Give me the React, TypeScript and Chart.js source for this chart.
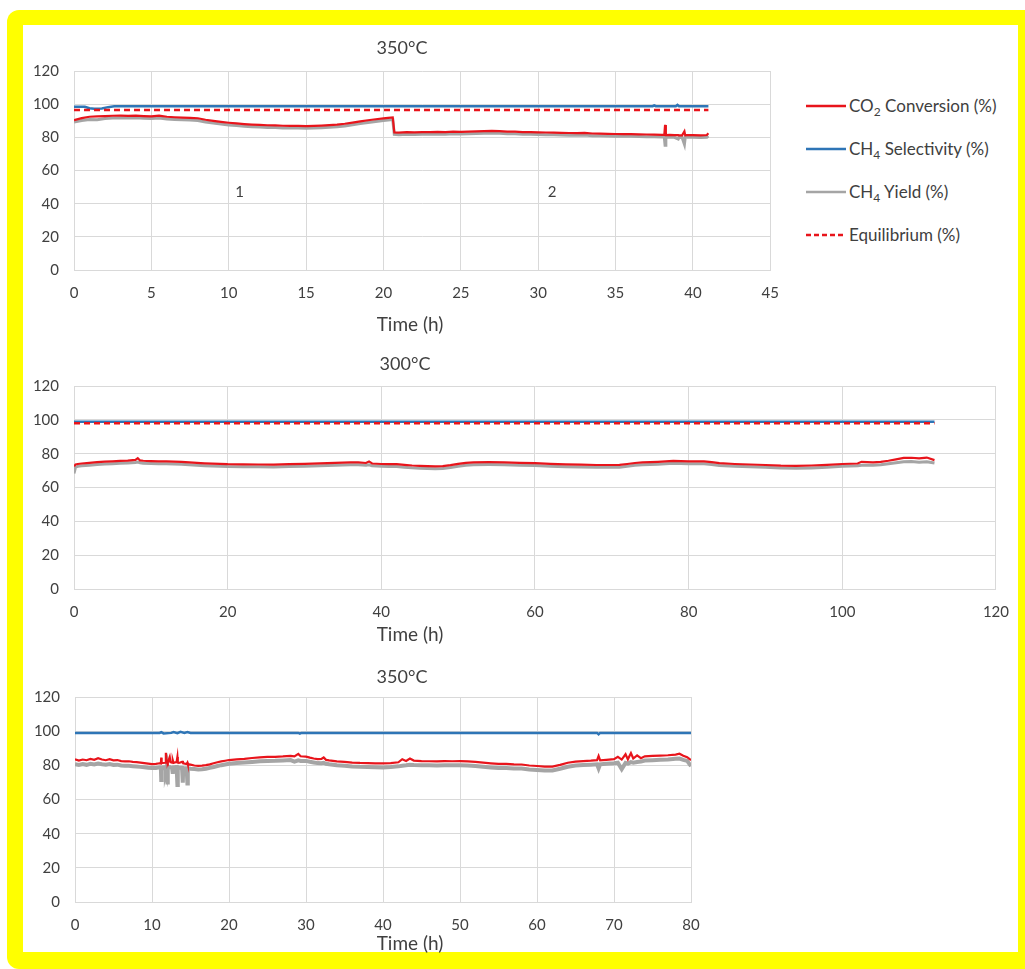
import React, { useEffect, useRef } from "react";
import { Chart, registerables } from "chart.js";
Chart.register(...registerables);

const FONT = "Lato, 'Open Sans', 'DejaVu Sans', sans-serif";
const TEXT_COLOR = "#404040";
const GRID_COLOR = "#D9D9D9";
const RED = "#E8141B";
const BLUE = "#2E75B6";
const GRAY = "#A5A5A5";

// ---------- Panel 1 : 350 °C, two stages ----------
const TIME_1 = [
  0, 0.5, 1, 1.5, 2, 2.5, 3, 3.5, 4, 4.5,
  5, 5.5, 6, 6.5, 7, 7.5, 8, 8.5, 9, 9.5,
  10, 10.5, 11, 11.5, 12, 12.5, 13, 13.5, 14, 14.5,
  15, 15.5, 16, 16.5, 17, 17.5, 18, 18.5, 19, 19.5,
  20, 20.3, 20.6, 20.7, 21, 21.5, 22, 22.5, 23, 23.5,
  24, 24.5, 25, 25.5, 26, 26.5, 27, 27.5, 28, 28.5,
  29, 29.5, 30, 30.5, 31, 31.5, 32, 32.5, 33, 33.5,
  34, 34.5, 35, 35.5, 36, 36.5, 37, 37.5, 38, 38.15,
  38.2, 38.25, 38.5, 38.8, 39.05, 39.1, 39.3, 39.45, 39.5, 39.6,
  40, 40.5, 40.9, 41,
];
const CONV_1 = [
  90.3, 91.6, 92.4, 92.6, 92.8, 93.0, 93.1, 93.0, 93.1, 92.8,
  92.6, 93.1, 92.4, 92.1, 91.9, 91.7, 91.5, 90.6, 89.9, 89.3,
  88.8, 88.4, 88.0, 87.7, 87.5, 87.3, 87.2, 87.0, 86.9, 86.9,
  86.8, 86.9, 87.1, 87.4, 87.7, 88.2, 88.9, 89.6, 90.3, 90.9,
  91.4, 91.7, 92.0, 83.0, 82.9, 83.1, 83.0, 83.2, 83.1, 83.3,
  83.2, 83.4, 83.3, 83.5, 83.6, 83.8, 83.9, 83.7, 83.5, 83.4,
  83.2, 83.1, 83.0, 82.9, 82.8, 82.7, 82.6, 82.5, 82.7, 82.3,
  82.2, 82.1, 82.0, 81.9, 81.9, 81.8, 81.7, 81.6, 81.5, 81.5,
  87.5, 81.4, 81.5, 81.3, 81.3, 81.2, 81.2, 83.6, 81.2, 81.3,
  81.3, 81.2, 81.4, 82.4,
];
const YIELD_1 = [
  89.2, 90.2, 90.8, 90.6, 91.3, 91.6, 91.8, 91.7, 91.8, 91.5,
  91.3, 91.7, 91.1, 90.8, 90.6, 90.4, 90.2, 89.3, 88.6, 88.0,
  87.5, 87.1, 86.7, 86.4, 86.2, 86.0, 85.9, 85.7, 85.6, 85.6,
  85.5, 85.6, 85.8, 86.1, 86.4, 86.9, 87.6, 88.3, 89.0, 89.6,
  90.1, 90.4, 90.7, 81.8, 81.6, 81.8, 81.7, 81.9, 81.8, 82.0,
  81.9, 82.1, 82.0, 82.2, 82.3, 82.5, 82.6, 82.4, 82.2, 82.1,
  81.9, 81.8, 81.7, 81.6, 81.5, 81.4, 81.3, 81.2, 81.4, 81.0,
  80.9, 80.8, 80.7, 80.6, 80.6, 80.5, 80.4, 80.3, 80.2, 80.2,
  75.2, 80.1, 80.2, 80.0, 79.0, 80.0, 79.9, 75.8, 79.9, 80.0,
  80.0, 79.9, 80.1, 80.8,
];
const SEL_TIME_1 = [0, 0.7, 1.0, 1.3, 1.8, 2.2, 2.6, 10, 20, 30, 37.4, 37.5, 37.6, 38.9, 39.0, 39.1, 41];
const SEL_1 = [98.5, 98.4, 97.6, 97.3, 97.4, 98.2, 98.7, 98.8, 98.8, 98.8, 98.8, 99.3, 98.8, 98.8, 99.6, 98.8, 98.8];
const EQ_TIME_1 = [0, 41];
const EQ_1 = [96.5, 96.5];
const STAGE_LABELS_1 = [
  { text: "1", t: 10.7, v: 47 },
  { text: "2", t: 30.9, v: 47 },
];

// ---------- Panel 2 : 300 °C ----------
const TIME_2 = [
  0, 0.2, 0.5, 1, 2, 3, 4, 5, 6, 7,
  8, 8.3, 8.6, 9, 10, 11, 12, 13, 14, 15,
  16, 17, 18, 19, 20, 22, 24, 26, 28, 30,
  32, 34, 36, 37, 38, 38.4, 38.8, 40, 41, 42,
  43, 44, 45, 46, 47, 48, 49, 50, 51, 52,
  54, 56, 58, 60, 62, 64, 66, 68, 70, 71,
  72, 73, 74, 76, 78, 80, 82, 83, 84, 86,
  88, 90, 92, 94, 96, 98, 100, 102, 102.5, 104,
  105, 106, 107, 108, 109, 110, 111, 112,
];
const CONV_2 = [
  72.5, 73.6, 73.9, 74.2, 74.6, 75.0, 75.3, 75.5, 75.7, 75.9,
  76.3, 77.3, 76.0, 75.8, 75.6, 75.5, 75.4, 75.3, 75.2, 74.8,
  74.5, 74.3, 74.1, 74.0, 73.8, 73.7, 73.6, 73.5, 73.8, 74.0,
  74.3, 74.6, 74.8, 74.9, 74.5, 75.4, 74.2, 73.9, 73.8, 73.8,
  73.4, 73.0, 72.8, 72.6, 72.5, 72.6, 73.2, 74.0, 74.6, 74.9,
  75.0, 74.9, 74.6, 74.4, 74.0, 73.7, 73.5, 73.3, 73.3, 73.4,
  73.9, 74.5, 74.8, 75.2, 75.7, 75.5, 75.4, 75.0, 74.4, 73.9,
  73.6, 73.3, 72.9, 72.8, 73.0, 73.4, 73.9, 74.2, 75.2, 74.8,
  75.2, 75.8, 76.6, 77.5, 77.6, 77.2, 77.7, 76.2,
];
const YIELD_2 = [
  68.3, 72.0, 72.5, 72.8, 73.2, 73.6, 73.9, 74.1, 74.3, 74.5,
  74.8, 75.0, 74.6, 74.4, 74.2, 74.1, 74.0, 73.9, 73.8, 73.4,
  73.1, 72.9, 72.7, 72.6, 72.4, 72.3, 72.2, 72.1, 72.4, 72.6,
  72.9, 73.2, 73.4, 73.5, 73.1, 73.4, 72.8, 72.5, 72.4, 72.4,
  72.0, 71.6, 71.4, 71.2, 71.1, 71.2, 71.8, 72.6, 73.2, 73.5,
  73.6, 73.5, 73.2, 73.0, 72.6, 72.3, 72.1, 71.9, 71.9, 72.0,
  72.5, 73.1, 73.4, 73.8, 74.3, 74.1, 74.0, 73.6, 73.0, 72.5,
  72.2, 71.9, 71.5, 71.4, 71.6, 72.0, 72.5, 72.8, 73.2, 73.2,
  73.5, 74.0, 74.6, 75.2, 75.3, 75.0, 75.2, 74.5,
];
const SEL_TIME_2 = [0, 112];
const SEL_2 = [98.9, 98.9];
const EQ_TIME_2 = [0, 112];
const EQ_2 = [98.0, 98.0];

// ---------- Panel 3 : 350 °C ----------
const TIME_3 = [
  0, 0.5, 1, 1.5, 2, 2.5, 3, 3.5, 4, 4.5,
  5, 5.5, 6, 6.5, 7, 7.5, 8, 8.5, 9, 9.5,
  10, 10.5, 11, 11.15, 11.2, 11.25, 11.7, 11.8, 11.9, 12.0,
  12.05, 12.3, 12.4, 12.6, 12.7, 12.8, 13.2, 13.3, 13.35, 13.5,
  13.9, 14.0, 14.05, 14.5, 14.6, 14.65, 14.8, 15, 15.5, 16, 16.5,
  17, 17.5, 18, 18.5, 19, 19.5, 20, 21, 22, 23,
  24, 25, 26, 27, 28, 28.5, 29, 29.3, 30, 30.5,
  31, 31.5, 32, 32.3, 32.6, 33, 34, 35, 36, 37,
  38, 39, 40, 41, 42, 42.5, 43, 43.5, 44, 45,
  46, 47, 48, 49, 50, 51, 52, 53, 54, 55,
  56, 57, 58, 59, 60, 61, 62, 63, 64, 65,
  66, 67, 67.8, 68, 68.2, 69, 70, 70.5, 71, 71.5,
  71.8, 72.2, 72.5, 73, 73.5, 74, 75, 76, 77, 78,
  78.5, 79, 79.5, 80,
];
const CONV_3 = [
  83.5, 82.8, 83.4, 83.0, 83.8, 83.2, 84.2, 83.4, 83.0, 83.6,
  82.9, 83.1, 82.5, 82.3, 82.4, 82.0, 81.9, 81.6, 81.3, 81.0,
  80.7, 80.9, 81.2, 81.0, 84.5, 81.3, 81.5, 87.3, 81.8, 82.0,
  81.6, 84.8, 81.8, 81.5, 83.0, 81.4, 82.0, 84.9, 81.6, 81.4,
  82.0, 82.5, 81.2, 80.8, 81.6, 80.7, 80.6, 80.4, 79.9, 79.7, 79.8,
  80.1, 80.6, 81.2, 81.8, 82.3, 82.7, 83.1, 83.5, 83.8, 84.3,
  84.7, 84.9, 85.0, 85.2, 85.5, 85.2, 86.7, 85.3, 85.1, 84.5,
  84.0, 83.6, 83.7, 84.6, 83.2, 82.9, 82.3, 82.0, 81.6, 81.4,
  81.3, 81.2, 81.1, 81.3, 81.8, 83.6, 82.6, 84.0, 82.8, 82.5,
  82.4, 82.3, 82.5, 82.4, 82.5, 82.3, 82.0, 81.6, 81.2, 80.8,
  80.9, 80.6, 80.5, 79.9, 79.6, 79.3, 79.3, 80.3, 81.5, 82.2,
  82.5, 82.7, 83.0, 85.5, 82.9, 83.2, 83.6, 85.0, 83.4, 86.5,
  83.5, 87.2, 84.0, 85.8, 84.2, 85.3, 85.5, 85.7, 85.9, 86.3,
  86.8, 85.6, 84.8, 83.0,
];
const YIELD_3 = [
  80.6, 80.2, 80.8, 80.3, 80.9, 80.5, 81.0, 80.6, 80.4, 80.8,
  80.2, 80.4, 79.9, 79.8, 79.7, 79.5, 79.3, 79.1, 78.9, 78.6,
  78.4, 78.5, 78.8, 78.6, 71.4, 78.7, 78.9, 77.0, 79.0, 69.9,
  78.9, 79.0, 78.8, 78.6, 75.0, 78.8, 79.0, 68.5, 78.8, 78.7,
  78.5, 69.9, 78.4, 78.3, 69.4, 78.2, 78.2, 78.0, 77.8, 77.6, 77.7,
  78.0, 78.5, 79.0, 79.6, 80.1, 80.5, 80.9, 81.3, 81.6, 82.0,
  82.4, 82.6, 82.7, 82.9, 83.1, 82.2, 82.9, 82.6, 82.6, 82.1,
  81.7, 81.3, 81.2, 81.5, 80.9, 80.6, 80.0, 79.7, 79.3, 79.1,
  79.0, 78.9, 78.8, 79.0, 79.4, 79.8, 80.0, 80.3, 80.2, 80.1,
  80.0, 79.9, 80.1, 80.0, 80.1, 79.9, 79.6, 79.2, 78.8, 78.4,
  78.5, 78.2, 78.1, 77.6, 77.3, 77.0, 77.0, 78.0, 79.2, 79.9,
  80.2, 80.4, 80.6, 78.2, 80.6, 80.9, 81.2, 81.5, 77.8, 81.4,
  81.0, 81.9, 81.6, 82.0, 82.2, 82.8, 83.0, 83.2, 83.4, 83.8,
  84.0, 83.2, 82.6, 79.5,
];
const SEL_TIME_3 = [0, 11, 11.2, 11.5, 12.5, 12.8, 13.3, 13.7, 14.2, 14.6, 15, 29, 29.2, 29.4, 67.8, 68, 68.2, 80];
const SEL_3 = [99.0, 99.0, 99.4, 98.7, 99.0, 99.5, 98.8, 99.6, 99.0, 99.5, 99.0, 99.0, 98.6, 99.0, 99.0, 98.2, 99.0, 99.0];

// ---------- shared labels ----------
const Y_MIN = 0;
const Y_MAX = 120;
const Y_STEP = 20;
const X_TITLE = "Time (h)";
const SERIES_NAMES = ["CO₂ Conversion (%)", "CH₄ Selectivity (%)", "CH₄ Yield (%)", "Equilibrium (%)"];
const LEGEND_PARTS = [
  ["CO", "2", " Conversion (%)"],
  ["CH", "4", " Selectivity (%)"],
  ["CH", "4", " Yield (%)"],
  ["Equilibrium (%)", "", ""],
];

const pts = (xs: number[], ys: number[]) => xs.map((x, i) => ({ x, y: ys[i] }));

const pinnedText = {
  id: "pinnedText",
  afterDatasetsDraw(chart: any, _args: any, opts: any) {
    const ctx = chart.ctx;
    ctx.save();
    ctx.fillStyle = TEXT_COLOR;
    ctx.textAlign = "center";
    ctx.textBaseline = "middle";
    for (const it of opts.items || []) {
      ctx.font = `${it.size}px ${FONT}`;
      let x = it.x;
      let y = it.y;
      if (it.data) {
        x = chart.scales.x.getPixelForValue(it.x);
        y = chart.scales.y.getPixelForValue(it.y);
      }
      ctx.fillText(it.text, x, y);
    }
    ctx.restore();
  },
};

function lineDs(label: string, data: any[], color: string, width: number, order: number, dash?: number[]) {
  return {
    label,
    data,
    borderColor: color,
    backgroundColor: color,
    borderWidth: width,
    borderDash: dash || [],
    pointRadius: 0,
    tension: 0,
    fill: false,
    order,
  };
}

function makeConfig(p: any) {
  return {
    type: "line",
    data: { datasets: p.datasets },
    plugins: [pinnedText],
    options: {
      responsive: false,
      animation: false,
      events: [],
      layout: { padding: p.padding },
      plugins: {
        legend: { display: false },
        tooltip: { enabled: false },
        title: { display: false },
        pinnedText: { items: p.texts },
      },
      scales: {
        x: {
          type: "linear",
          min: 0,
          max: p.xMax,
          ticks: { stepSize: p.xStep, padding: 14, color: TEXT_COLOR, font: { family: FONT, size: 15 }, maxRotation: 0 },
          grid: { color: GRID_COLOR, drawTicks: false, lineWidth: 1 },
          border: { color: GRID_COLOR },
          afterFit: (s: any) => {
            s.height = p.xAxisH;
          },
        },
        y: {
          type: "linear",
          min: Y_MIN,
          max: Y_MAX,
          ticks: { stepSize: Y_STEP, padding: 15, color: TEXT_COLOR, font: { family: FONT, size: 15 } },
          grid: { color: GRID_COLOR, drawTicks: false, lineWidth: 1 },
          border: { color: GRID_COLOR },
          afterFit: (s: any) => {
            s.width = p.yAxisW;
          },
        },
      },
    },
  };
}

function Panel({ left, top, width, height, config }: any) {
  const ref = useRef<HTMLCanvasElement | null>(null);
  useEffect(() => {
    const chart = new Chart(ref.current as HTMLCanvasElement, config);
    return () => chart.destroy();
  }, []);
  return (
    <canvas
      ref={ref}
      width={width}
      height={height}
      style={{ position: "absolute", left, top, width, height }}
    />
  );
}

const config1 = makeConfig({
  xMax: 45,
  xStep: 5,
  padding: { left: 0, right: 22, top: 41, bottom: 0 },
  yAxisW: 51,
  xAxisH: 75,
  texts: [
    { text: "350°C", x: 379, y: 18, size: 18 },
    { text: X_TITLE, x: 387, y: 295, size: 19 },
    ...STAGE_LABELS_1.map((s) => ({ text: s.text, x: s.t, y: s.v, size: 15, data: true })),
  ],
  datasets: [
    lineDs(SERIES_NAMES[0], pts(TIME_1, CONV_1), RED, 2.2, 1),
    lineDs(SERIES_NAMES[1], pts(SEL_TIME_1, SEL_1), BLUE, 2.5, 3),
    lineDs(SERIES_NAMES[2], pts(TIME_1, YIELD_1), GRAY, 3, 4),
    lineDs(SERIES_NAMES[3], pts(EQ_TIME_1, EQ_1), RED, 2.5, 2, [6, 4]),
  ],
});

const config2 = makeConfig({
  xMax: 120,
  xStep: 20,
  padding: { left: 0, right: 20, top: 41, bottom: 0 },
  yAxisW: 51,
  xAxisH: 71,
  texts: [
    { text: "300°C", x: 382, y: 19, size: 18 },
    { text: X_TITLE, x: 387, y: 290, size: 19 },
  ],
  datasets: [
    lineDs(SERIES_NAMES[0], pts(TIME_2, CONV_2), RED, 2.2, 1),
    lineDs(SERIES_NAMES[1], pts(SEL_TIME_2, SEL_2), BLUE, 2.5, 3),
    lineDs(SERIES_NAMES[2], pts(TIME_2, YIELD_2), GRAY, 3, 4),
    lineDs(SERIES_NAMES[3], pts(EQ_TIME_2, EQ_2), RED, 2.5, 2, [6, 4]),
  ],
});

const config3 = makeConfig({
  xMax: 80,
  xStep: 10,
  padding: { left: 0, right: 32, top: 42, bottom: 0 },
  yAxisW: 52,
  xAxisH: 53,
  texts: [
    { text: "350°C", x: 379, y: 22, size: 18 },
    { text: X_TITLE, x: 387, y: 289, size: 19 },
  ],
  datasets: [
    lineDs(SERIES_NAMES[0], pts(TIME_3, CONV_3), RED, 2.2, 1),
    lineDs(SERIES_NAMES[1], pts(SEL_TIME_3, SEL_3), BLUE, 2.5, 3),
    lineDs(SERIES_NAMES[2], pts(TIME_3, YIELD_3), GRAY, 4, 4),
  ],
});

const LEGEND_STYLE = [
  { color: RED, dash: "" },
  { color: BLUE, dash: "" },
  { color: GRAY, dash: "" },
  { color: RED, dash: "5 3" },
];
const LEGEND_ROWS_Y = [105.5, 149, 192, 235];

function Legend() {
  return (
    <>
      {LEGEND_PARTS.map((parts, i) => (
        <div key={i}>
          <svg
            width={40}
            height={6}
            style={{ position: "absolute", left: 806, top: LEGEND_ROWS_Y[i] - 3 }}
          >
            <line
              x1={0}
              y1={3}
              x2={40}
              y2={3}
              stroke={LEGEND_STYLE[i].color}
              strokeWidth={2.5}
              strokeDasharray={LEGEND_STYLE[i].dash || undefined}
            />
          </svg>
          <div
            style={{
              position: "absolute",
              left: 849,
              top: LEGEND_ROWS_Y[i] - 11,
              height: 22,
              lineHeight: "22px",
              fontFamily: FONT,
              fontSize: 17,
              color: TEXT_COLOR,
              whiteSpace: "nowrap",
            }}
          >
            {parts[0]}
            {parts[1] ? (
              <span style={{ fontSize: 12, position: "relative", top: 4 }}>{parts[1]}</span>
            ) : null}
            {parts[2]}
          </div>
        </div>
      ))}
    </>
  );
}

export default function App() {
  return (
    <div
      style={{
        position: "absolute",
        left: 0,
        top: 0,
        width: 1025,
        height: 969,
        overflow: "hidden",
        background: "#ffffff",
      }}
    >
      <div
        style={{
          position: "absolute",
          left: 7,
          top: 10,
          width: 1040,
          height: 959,
          background: "#FFFF00",
          borderRadius: 12,
        }}
      />
      <div style={{ position: "absolute", left: 23, top: 25, width: 995, height: 927, background: "#ffffff" }} />
      <Panel left={23} top={30} width={770} height={315} config={config1} />
      <Panel left={23} top={345} width={1000} height={315} config={config2} />
      <Panel left={23} top={655} width={700} height={300} config={config3} />
      <Legend />
    </div>
  );
}
